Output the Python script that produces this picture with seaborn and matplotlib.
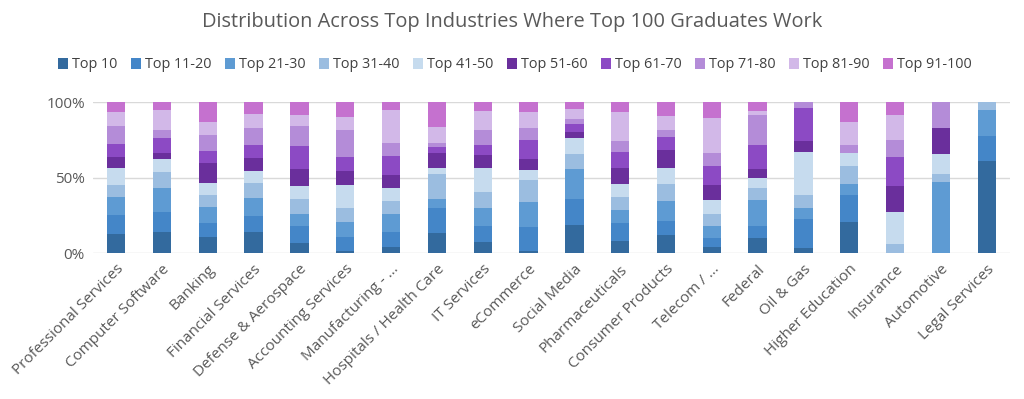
import numpy as np
import pandas as pd
import matplotlib.pyplot as plt
import seaborn as sns

# industries in chart order
industries = [
    "Professional Services", "Computer Software", "Banking", "Financial Services",
    "Defense & Aerospace", "Accounting Services", "Manufacturing - ...",
    "Hospitals / Health Care", "IT Services", "eCommerce", "Social Media",
    "Pharmaceuticals", "Consumer Products", "Telecom / ...", "Federal",
    "Oil & Gas", "Higher Education", "Insurance", "Automotive", "Legal Services",
]

tiers = ["Top 10", "Top 11-20", "Top 21-30", "Top 31-40", "Top 41-50",
         "Top 51-60", "Top 61-70", "Top 71-80", "Top 81-90", "Top 91-100"]

# share (%) of each tier per industry
top_10 = [12.8, 14.3, 11.0, 13.9, 6.6, 1.8, 4.4, 13.7, 7.7, 1.8,
          18.8, 8.4, 12.1, 4.4, 9.9, 3.8, 21.0, 0.0, 0.0, 61.4]
top_11_20 = [12.6, 13.3, 8.9, 11.0, 11.5, 9.2, 9.9, 16.1, 10.4, 15.4,
             17.2, 11.5, 9.5, 5.5, 8.2, 18.9, 17.6, 0.0, 0.0, 16.5]
top_21_30 = [12.1, 15.4, 11.0, 11.5, 7.7, 10.0, 11.7, 6.2, 12.1, 17.0,
             19.8, 8.8, 13.1, 8.2, 17.2, 7.1, 7.1, 0.0, 47.5, 17.0]
top_31_40 = [7.8, 11.1, 7.7, 10.4, 10.2, 8.8, 8.7, 16.5, 10.2, 14.4,
             10.0, 8.4, 11.2, 7.7, 8.2, 8.8, 12.1, 6.0, 5.0, 5.1]
top_41_50 = [11.0, 8.2, 8.2, 7.7, 8.6, 15.5, 8.8, 4.2, 16.3, 6.6,
             10.4, 8.6, 10.8, 9.5, 6.6, 28.7, 8.9, 21.6, 13.1, 0.0]
top_51_60 = [7.3, 4.4, 12.8, 8.4, 11.2, 9.2, 8.4, 9.5, 8.4, 7.3,
             3.9, 11.0, 11.7, 10.0, 5.5, 6.7, 0.0, 17.0, 17.2, 0.0]
top_61_70 = [8.8, 9.5, 8.4, 8.8, 15.5, 9.1, 12.8, 4.4, 6.6, 12.6,
             5.3, 10.6, 8.4, 12.5, 16.1, 22.0, 0.0, 19.0, 0.0, 0.0]
top_71_80 = [12.1, 5.5, 10.4, 11.1, 13.0, 18.1, 8.6, 2.7, 10.0, 8.1,
             3.3, 7.3, 4.9, 8.4, 19.5, 4.0, 5.0, 11.5, 17.2, 0.0]
top_81_90 = [9.3, 13.2, 8.8, 9.3, 6.9, 8.4, 21.6, 10.1, 12.6, 10.6,
             6.9, 18.6, 9.2, 23.2, 3.1, 0.0, 15.5, 16.5, 0.0, 0.0]
top_91_100 = [6.2, 5.1, 12.8, 7.9, 8.8, 9.9, 5.1, 16.6, 5.7, 6.2,
              4.4, 6.8, 9.1, 10.6, 5.7, 0.0, 12.8, 8.4, 0.0, 0.0]

series = [top_10, top_11_20, top_21_30, top_31_40, top_41_50,
          top_51_60, top_61_70, top_71_80, top_81_90, top_91_100]

colors = ["#336a9e", "#4486c8", "#5e9bd3", "#9bbde0", "#c6dbee",
          "#6a2f9c", "#8c4ac4", "#b48cd8", "#d2b8e8", "#c571cf"]

sns.set_theme(style="white")
plt.rcParams["font.family"] = ["Open Sans", "DejaVu Sans"]

fig = plt.figure(figsize=(10.24, 3.99), dpi=100)
ax = fig.add_axes([0.091, 0.365, 0.895, 0.379])

# stacked bars, one barplot call per tier
bottom = np.zeros(len(industries))
for tier, vals, col in zip(tiers, series, colors):
    df = pd.DataFrame({"industry": industries, "share": vals})
    sns.barplot(data=df, x="industry", y="share", color=col, width=0.4,
                bottom=bottom, label=tier, ax=ax, saturation=1, linewidth=0)
    bottom = bottom + np.array(vals)

ax.set_ylim(0, 100)
ax.set_xlim(-0.5, len(industries) - 0.5)
ax.set_yticks([0, 50, 100])
ax.set_yticklabels(["0%", "50%", "100%"], fontsize=11, color="#595959")
ax.yaxis.grid(True, color="#d9d9d9", linewidth=1)
ax.set_axisbelow(True)
for s in ax.spines.values():
    s.set_visible(False)
ax.tick_params(axis="both", length=0, pad=6)
ax.set_xlabel("")
ax.set_ylabel("")
plt.setp(ax.get_xticklabels(), rotation=45, ha="right", rotation_mode="anchor",
         fontsize=11, color="#595959")

ax.legend(loc="center", ncol=10, frameon=False, fontsize=10.4,
          handlelength=0.7, handleheight=0.7, handletextpad=0.3,
          columnspacing=0.9, labelcolor="#404040")
ax.get_legend().set_bbox_to_anchor((0.503, 1 - 65 / 399), transform=fig.transFigure)

fig.suptitle("Distribution Across Top Industries Where Top 100 Graduates Work",
             y=1 - 22 / 399, va="center", fontsize=14.4, color="#595959")

fig.savefig("out.png", dpi=100)
